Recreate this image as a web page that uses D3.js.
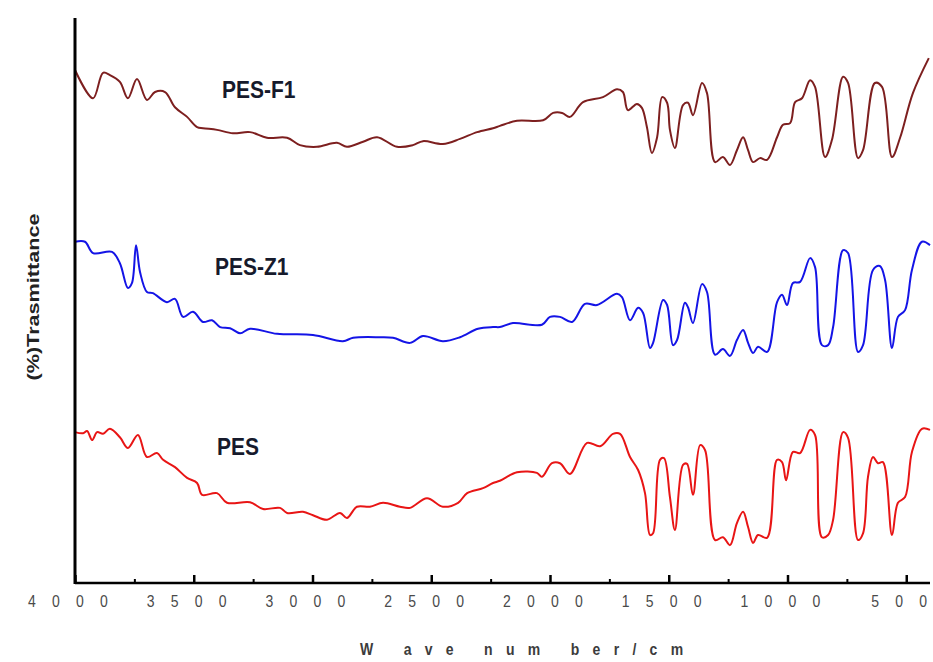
<!DOCTYPE html>
<html>
<head>
<meta charset="utf-8">
<script src="https://d3js.org/d3.v7.min.js"></script>
<style>
body { margin: 0; background: #fff; }
</style>
</head>
<body>
<div id="my_dataviz"></div>
<script>
// FTIR spectra (wavenumber cm-1, transmittance a.u.)
var f1Wave = [4000,3924,3882,3853,3811,3777,3739,3697,3663,3621,3579,3528,3486,3461,3402,3335,3263,3192,3107,3053,2981,2897,2855,2787,2728,2644,2577,2535,2451,2379,2307,2240,2211,2139,2029,1987,1949,1916,1861,1777,1718,1693,1672,1634,1613,1592,1571,1549,1528,1507,1495,1474,1440,1419,1398,1360,1339,1305,1272,1242,1213,1187,1166,1145,1116,1086,1044,1019,989,968,939,905,884,842,813,766,745,703,682,632,602,560,526,472,405];
var f1Trans = [90.8,85.8,90.3,89.9,88.7,85.8,89.2,85.5,86.9,86.9,84.2,82.5,80.7,80.5,80.2,79.6,79.8,78.8,78.8,77.5,77.2,77.9,77.2,78.1,78.9,77.2,77.5,78.2,77.7,78.6,79.8,80.5,80.9,81.8,81.9,83.2,83.2,82.5,85.1,86.0,87.4,86.9,83.7,84.8,84.1,80.7,76.1,78.9,86.0,85.0,80.2,77.0,84.6,85.0,82.8,88.5,86.7,74.5,75.4,74.0,76.6,78.9,76.6,74.5,75.2,74.9,78.9,81.1,81.4,85.1,85.8,89.0,87.8,75.4,78.4,89.6,88.5,75.2,76.6,88.5,87.8,75.4,78.8,86.7,92.9];

var z1Wave = [4000,3958,3924,3844,3811,3777,3760,3743,3726,3697,3672,3613,3579,3545,3503,3461,3423,3389,3347,3305,3263,3149,2998,2872,2829,2716,2661,2589,2535,2451,2379,2303,2240,2211,2156,2034,2000,1958,1907,1853,1802,1718,1697,1663,1629,1608,1579,1566,1524,1507,1482,1465,1432,1419,1398,1360,1339,1305,1272,1242,1213,1187,1166,1145,1124,1086,1044,1023,1002,977,947,905,884,855,829,808,766,745,703,682,640,611,589,560,535,505,476,434,400];
var z1Trans = [60.4,60.4,58.4,58.6,56.6,52.2,53.1,59.8,55.0,51.5,51.3,49.7,50.3,47.1,48.0,46.2,46.5,45.3,45.1,44.2,45.0,44.1,43.9,42.8,43.4,43.5,43.4,42.5,43.7,42.8,43.5,45.0,45.3,45.3,46.0,45.7,47.1,47.1,46.2,49.4,49.2,51.2,50.6,46.5,48.7,47.8,41.6,42.5,50.1,49.2,42.1,43.0,49.6,48.8,46.0,52.9,51.5,40.4,41.4,40.2,43.0,44.8,42.5,40.7,41.8,40.9,49.7,51.0,49.2,53.1,53.3,57.5,55.9,42.1,42.1,45.3,58.9,58.4,40.9,42.1,55.4,56.1,53.6,41.6,47.1,48.3,55.4,60.4,59.8];

var pesWave = [4000,3966,3949,3928,3907,3882,3853,3811,3777,3735,3697,3655,3629,3579,3528,3486,3465,3402,3360,3263,3208,3137,3107,3040,2998,2939,2884,2855,2813,2758,2703,2632,2589,2518,2451,2387,2349,2282,2240,2211,2139,2055,2034,1992,1958,1916,1844,1789,1735,1705,1663,1629,1600,1579,1566,1537,1520,1495,1474,1440,1423,1398,1368,1347,1305,1272,1242,1213,1187,1166,1145,1124,1086,1044,1023,1006,977,947,905,884,855,829,808,766,745,703,682,661,640,619,598,560,535,505,476,434,400];
var pesTrans = [26.7,26.5,26.9,25.3,26.7,26.4,27.3,25.8,23.9,26.2,22.3,23.0,21.8,20.5,18.6,17.7,15.6,15.9,14.2,14.3,13.1,13.3,12.4,12.6,12.0,11.2,12.4,11.5,13.5,13.5,14.2,13.5,13.3,15.0,13.5,14.2,15.9,16.8,17.7,18.1,19.6,19.5,18.8,21.2,21.2,19.3,24.8,24.2,26.4,26.4,22.3,20.0,15.9,8.5,8.8,21.8,22.1,15.2,9.4,20.9,21.1,15.6,24.4,23.5,7.6,8.1,6.7,10.6,12.6,9.9,7.1,8.5,8.0,21.8,21.4,18.2,23.2,23.0,27.1,26.2,8.1,8.5,11.2,26.7,25.7,7.6,8.8,18.8,22.3,21.2,21.4,8.5,14.2,15.2,23.2,27.3,27.1];

var seriesNames = ["PES-F1", "PES-Z1", "PES"];
var tickLabels = [4000, 3500, 3000, 2500, 2000, 1500, 1000, 500];

var width = 933
height = 662

var svg = d3.select("#my_dataviz")
.append("svg")
.attr("width", width)
.attr("height", height);

var x = d3.scaleLinear()
.domain([4000, 400])
.range([75, 930]);

var y = d3.scaleLinear()
.domain([0, 100])
.range([583, 18]);

var series = [
  {name: seriesNames[0], wave: f1Wave, trans: f1Trans, color: "#7d1f1f", lx: 222, ly: 98},
  {name: seriesNames[1], wave: z1Wave, trans: z1Trans, color: "#1414e6", lx: 215, ly: 275},
  {name: seriesNames[2], wave: pesWave, trans: pesTrans, color: "#e81515", lx: 217, ly: 455}
];

// catmull-rom keeps the peaks rounded without overshooting much
var line = d3.line()
.x(function(d) { return x(d[0]); })
.y(function(d) { return y(d[1]); })
.curve(d3.curveCatmullRom.alpha(0.5));

series.forEach(function(s) {
  var pts = s.wave.map(function(w, i) { return [w, s.trans[i]]; });
  svg.append("path")
    .datum(pts)
    .attr("fill", "none")
    .attr("stroke", s.color)
    .attr("stroke-width", 2)
    .attr("stroke-linejoin", "round")
    .attr("d", line);

  svg.append("text")
    .attr("transform", "translate(" + s.lx + "," + s.ly + ") scale(1,1.12)")
    .style("font-family", "Liberation Sans, Arial, sans-serif")
    .style("font-weight", "bold")
    .style("font-size", "21px")
    .style("fill", "#161a2c")
    .text(s.name);
});

// minor ticks every 250, major every 500 (pointing up into the plot)
svg.append("g")
.attr("transform", "translate(0,583)")
.call(d3.axisBottom(x).tickValues(d3.range(3750, 400, -500)).tickSize(-4).tickFormat(""))
.call(function(g) { g.select(".domain").remove(); })
.selectAll("line").attr("stroke", "#000").attr("stroke-width", 2);

svg.append("g")
.attr("transform", "translate(0,583)")
.call(d3.axisBottom(x).tickValues(tickLabels).tickSize(-8).tickFormat(""))
.call(function(g) { g.select(".domain").remove(); })
.selectAll("line").attr("stroke", "#000").attr("stroke-width", 2.5);

// axis lines
svg.append("line")
.attr("x1", x(4000)).attr("x2", x(400))
.attr("y1", 583).attr("y2", 583)
.attr("stroke", "#000").attr("stroke-width", 2.5);

svg.append("line")
.attr("x1", 75).attr("x2", 75)
.attr("y1", 18).attr("y2", 584)
.attr("stroke", "#000").attr("stroke-width", 3);

// tick labels, digits spread out like the original (no trailing gap)
svg.selectAll("text.tick-label")
.data(tickLabels)
.enter()
.append("text")
.attr("class", "tick-label")
.attr("transform", function(d) { return "translate(" + (x(d) - 7) + ",607) scale(1,1.2)"; })
.attr("text-anchor", "middle")
.attr("dx", function(d) {
  return String(d).split("").map(function(c, i) { return i == 0 ? 0 : 16.2; }).join(" ");
})
.style("font-family", "Liberation Sans, Arial, sans-serif")
.style("font-size", "14px")
.style("fill", "#4a4a4a")
.text(function(d) { return d; });

svg.append("text")
.attr("transform", "translate(360,655) scale(1,1.2)")
.style("font-family", "Liberation Sans, Arial, sans-serif")
.style("font-size", "14px")
.style("font-weight", "bold")
.style("letter-spacing", "13.3px")
.style("fill", "#3c3c3c")
.text("W ave num ber/cm");

svg.append("text")
.attr("transform", "translate(39,297) rotate(-90)")
.attr("text-anchor", "middle")
.attr("textLength", 167)
.attr("lengthAdjust", "spacingAndGlyphs")
.style("font-family", "Liberation Sans, Arial, sans-serif")
.style("font-size", "17px")
.style("font-weight", "bold")
.style("fill", "#222")
.text("(%)Trasmittance");
</script>
</body>
</html>
